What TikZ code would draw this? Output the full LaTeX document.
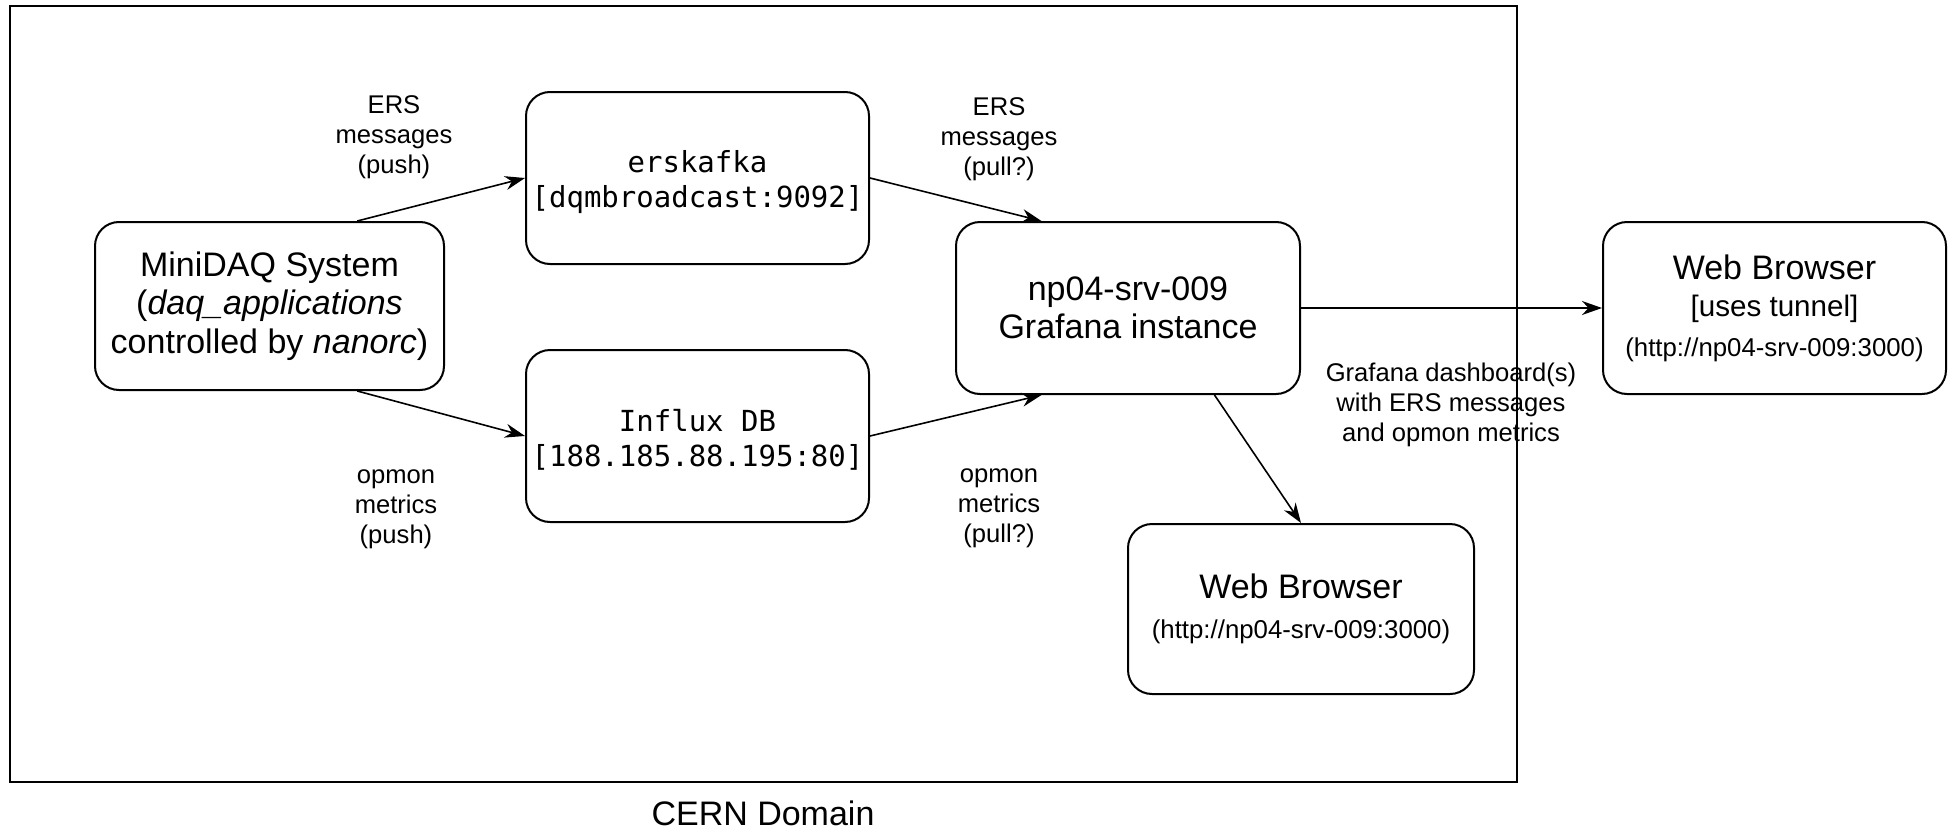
\documentclass[tikz,border=0pt]{standalone}
\usepackage{fontspec}
\setmainfont{Liberation Sans}
\setmonofont{DejaVu Sans Mono}
\usetikzlibrary{arrows.meta,calc}
\begin{document}
\begin{tikzpicture}[x=0.5pt,y=-0.5pt,
  box/.style={draw, line width=1pt, rounded corners=12pt, align=center, inner sep=0pt},
  titlefont/.style={font=\fontsize{17}{19.2}\selectfont},
  monofont/.style={font=\ttfamily\fontsize{14.5}{17.5}\selectfont},
  lbl/.style={align=center, inner sep=0pt, font=\fontsize{12.8}{15}\selectfont},
  arr/.style={line width=0.8pt, -{Stealth[length=10pt,width=7pt]}}]
\useasboundingbox (0,0) rectangle (1955,830);
\node[draw, line width=1pt, minimum width=753.5pt, minimum height=388pt, inner sep=0pt] (domain) at (763.5,394) {};
\node[titlefont, inner sep=0pt] (domlbl) at (763,813) {CERN Domain};

\node[box, titlefont, minimum width=174.5pt, minimum height=84pt] (mini) at (269.5,306)
  {MiniDAQ System\\(\textit{daq\_applications}\\controlled by \textit{nanorc})};
\node[box, monofont, minimum width=171.5pt, minimum height=86pt] (ersk) at (697.5,178)
  {\rule{0pt}{15pt}erskafka\\{[}dqmbroadcast:9092{]}};
\node[box, monofont, minimum width=171.5pt, minimum height=86pt] (influx) at (697.5,436)
  {\rule{0pt}{15pt}Influx DB\\{[}188.185.88.195:80{]}};
\node[box, titlefont, minimum width=172pt, minimum height=86pt] (graf) at (1128,308)
  {np04-srv-009\\Grafana instance};
\node[box, font=\fontsize{17}{20}\selectfont, minimum width=173pt, minimum height=85pt] (wb1) at (1301,609)
  {Web Browser\\\fontsize{12.9}{15}\selectfont (http://np04-srv-009:3000)};
\node[box, font=\fontsize{17}{18.5}\selectfont, minimum width=171.5pt, minimum height=86pt] (wb2) at (1774.5,308)
  {Web Browser\\\fontsize{14.8}{17}\selectfont {[}uses tunnel{]}\\[1.5pt]\fontsize{12.9}{15}\selectfont (http://np04-srv-009:3000)};

\node[lbl] (l1) at (394,137) {ERS\\messages\\(push)};
\node[lbl] (l2) at (396,509) {opmon\\metrics\\(push)};
\node[lbl] (l3) at (999,139) {ERS\\messages\\(pull?)};
\node[lbl] (l4) at (999,508) {opmon\\metrics\\(pull?)};
\node[lbl] (l5) at (1451,405) {Grafana dashboard(s)\\with ERS messages\\and opmon metrics};

\draw[arr] ($(mini.north west)!0.75!(mini.north east)$) -- (ersk.west);
\draw[arr] ($(mini.south west)!0.75!(mini.south east)$) -- (influx.west);
\draw[arr] (ersk.east) -- ($(graf.north west)!0.25!(graf.north east)$);
\draw[arr] (influx.east) -- ($(graf.south west)!0.25!(graf.south east)$);
\draw[arr] ($(graf.south west)!0.75!(graf.south east)$) -- (wb1.north);
\draw[arr] (graf.east) -- (wb2.west);
\end{tikzpicture}
\end{document}
